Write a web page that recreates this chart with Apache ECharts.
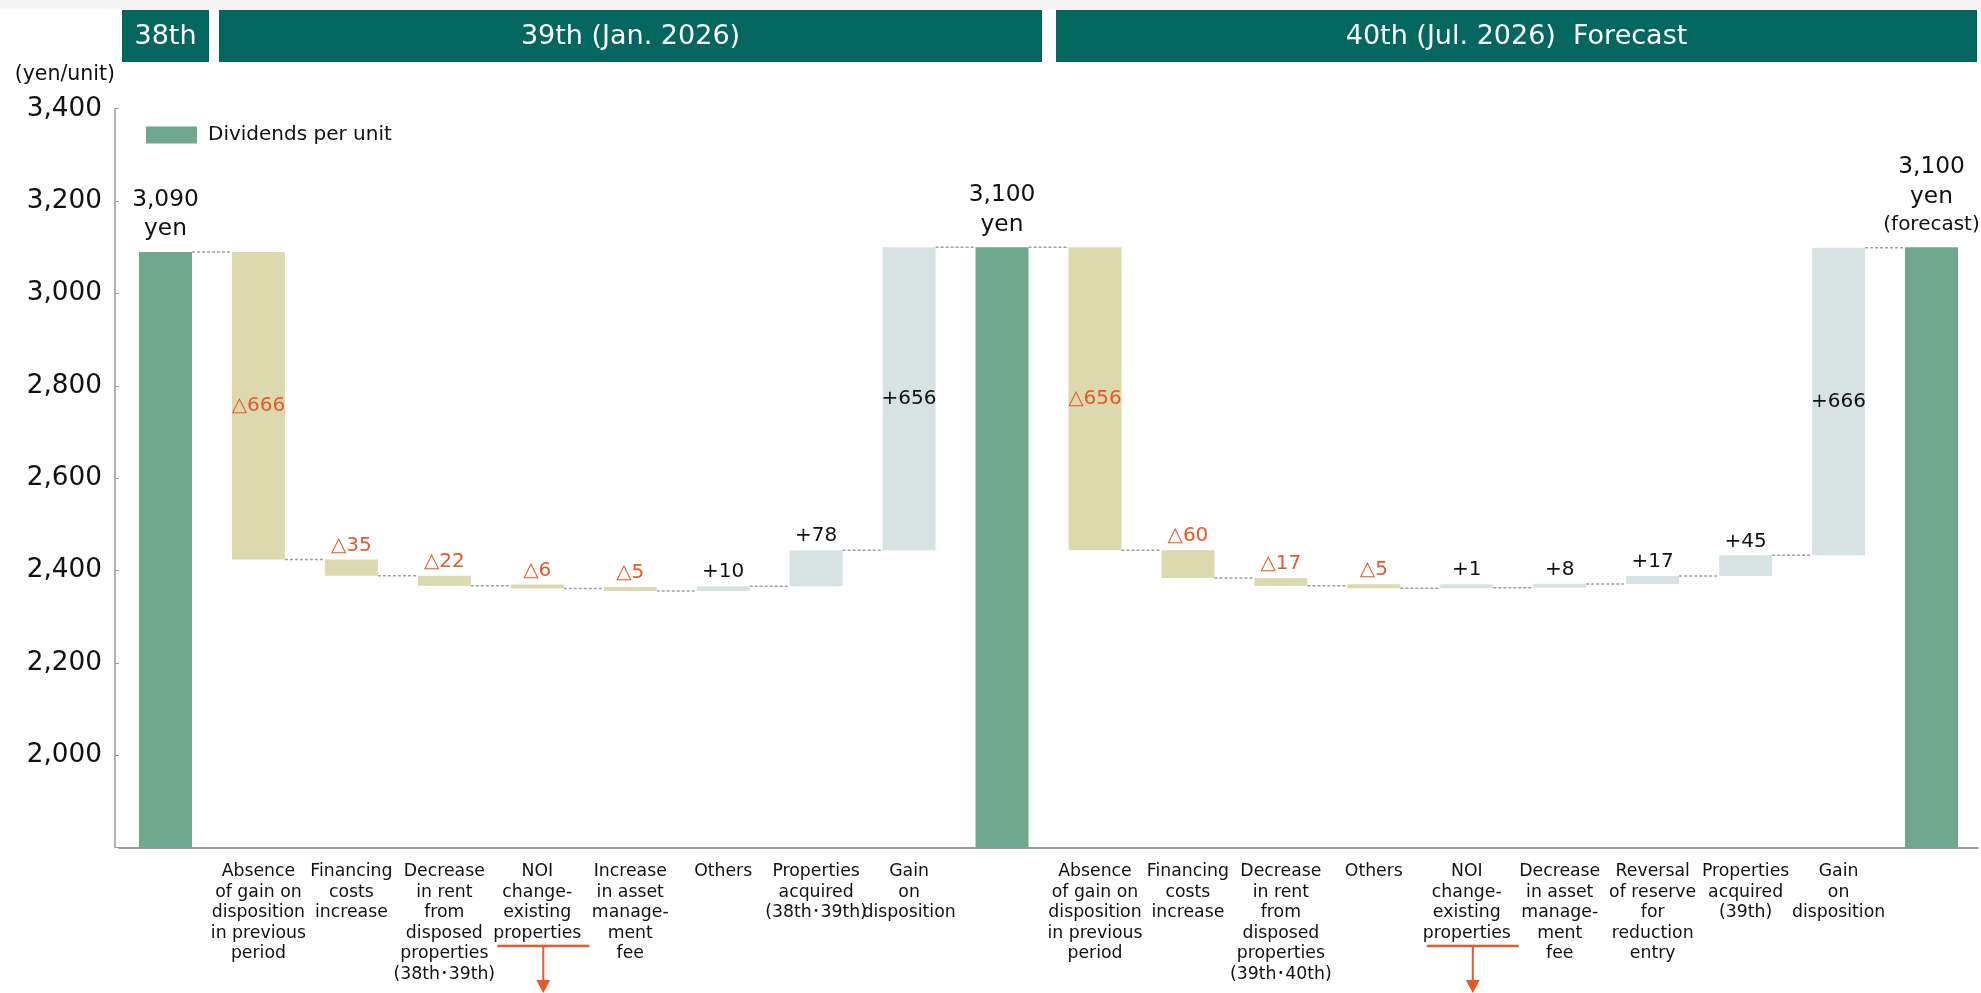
<!DOCTYPE html>
<html><head><meta charset="utf-8">
<script src="https://cdn.jsdelivr.net/npm/echarts@6/dist/echarts.min.js"></script>
<style>html,body{margin:0;padding:0;background:#fff}#c{width:1981px;height:993px}</style>
</head><body><div id="c"></div>
<script>
// ---- data ----
const categories = [
  '',
  'Absence\nof gain on\ndisposition\nin previous\nperiod',
  'Financing\ncosts\nincrease',
  'Decrease\nin rent\nfrom\ndisposed\nproperties\n(38th･39th)',
  'NOI\nchange-\nexisting\nproperties',
  'Increase\nin asset\nmanage-\nment\nfee',
  'Others',
  'Properties\nacquired\n(38th･39th)',
  'Gain\non\ndisposition',
  '',
  'Absence\nof gain on\ndisposition\nin previous\nperiod',
  'Financing\ncosts\nincrease',
  'Decrease\nin rent\nfrom\ndisposed\nproperties\n(39th･40th)',
  'Others',
  'NOI\nchange-\nexisting\nproperties',
  'Decrease\nin asset\nmanage-\nment\nfee',
  'Reversal\nof reserve\nfor\nreduction\nentry',
  'Properties\nacquired\n(39th)',
  'Gain\non\ndisposition',
  ''
];
const dividends = [3090, null, null, null, null, null, null, null, null, 3100,
                   null, null, null, null, null, null, null, null, null, 3100];
const changes   = [null, -666, -35, -22, -6, -5, 10, 78, 656, null,
                   -656, -60, -17, -5, 1, 8, 17, 45, 666, null];
const totalNotes = ['', '', '', '', '', '', '', '', '', '',
                    '', '', '', '', '', '', '', '', '', '(forecast)'];
const periodHeaders = ['38th', '39th (Jan. 2026)', '40th (Jul. 2026)  Forecast'];
const yMin = 1800, yMax = 3400, yStep = 200;

// ---- build waterfall stacks ----
const FONT = "'DejaVu Sans', Verdana, 'Noto Sans CJK JP', sans-serif";
const n = categories.length;
let running = 0;
const base = [], totals = [], neg = [], pos = [], levels = [];
for (let i = 0; i < n; i++) {
  if (dividends[i] != null) {
    running = dividends[i];
    base.push(0); totals.push(dividends[i]); neg.push('-'); pos.push('-');
  } else {
    const d = changes[i], start = running;
    running = start + d;
    base.push(Math.min(start, running));
    totals.push('-');
    neg.push(d < 0 ? { value: -d, label: { position: -d > 200 ? 'inside' : 'top' } } : '-');
    pos.push(d > 0 ? { value: d, label: { position: d > 200 ? 'inside' : 'top' } } : '-');
  }
  levels.push(running);
}
const connectors = levels.slice(0, n - 1).map((v, i) => [i, v]);
const BAR_W = 53;

const chart = echarts.init(document.getElementById('c'));
chart.setOption({
  animation: false,
  textStyle: { fontFamily: FONT },
  legend: {
    data: ['Dividends per unit'], left: 141, top: 120, icon: 'rect',
    itemWidth: 51, itemHeight: 17, selectedMode: false,
    textStyle: { fontSize: 20, color: '#111', fontFamily: FONT, padding: [0, 0, 0, 6] }
  },
  grid: { left: 119, right: 3, top: 108.7, bottom: 145.3, containLabel: false },
  xAxis: {
    type: 'category', data: categories,
    axisLine: { lineStyle: { color: '#999', width: 2 } },
    axisTick: { show: false },
    axisLabel: { interval: 0, fontSize: 17.3, lineHeight: 20.5, margin: 14, color: '#111', fontFamily: FONT }
  },
  yAxis: {
    type: 'value', min: yMin, max: yMax, interval: yStep, offset: 4,
    name: '(yen/unit)', nameLocation: 'end', nameGap: 34,
    nameTextStyle: { fontSize: 20.5, color: '#111', align: 'right', verticalAlign: 'middle', fontFamily: FONT },
    axisLine: { show: true, lineStyle: { color: '#999', width: 1.5 } },
    axisTick: { show: true, inside: true, length: 4, lineStyle: { color: '#999' } },
    splitLine: { show: false },
    axisLabel: {
      fontSize: 26.3, color: '#111', margin: 13, fontFamily: FONT,
      formatter: v => v === yMin ? '' : v.toLocaleString('en-US')
    }
  },
  series: [
    { type: 'bar', name: 'base', stack: 'w', barWidth: BAR_W, data: base, silent: true,
      itemStyle: { color: 'transparent' } },
    { type: 'bar', name: 'Dividends per unit', stack: 'w', barWidth: BAR_W, data: totals,
      itemStyle: { color: '#6FA78F' },
      label: {
        show: true, position: 'top', distance: 8,
        formatter: p => {
          let s = '{v|' + p.value.toLocaleString('en-US') + '}\n{v|yen}';
          if (totalNotes[p.dataIndex]) s += '\n{f|' + totalNotes[p.dataIndex] + '}';
          return s;
        },
        rich: {
          v: { fontSize: 23.3, lineHeight: 29.5, color: '#111', fontFamily: FONT, align: 'center' },
          f: { fontSize: 20, lineHeight: 28, color: '#111', fontFamily: FONT, align: 'center' }
        }
      } },
    { type: 'bar', name: 'Decrease', stack: 'w', barWidth: BAR_W, data: neg, barMinHeight: 4,
      itemStyle: { color: '#DCD9AE' },
      label: { show: true, color: '#E35A2B', fontSize: 20, distance: 4, fontFamily: FONT,
               formatter: p => '△' + p.value } },
    { type: 'bar', name: 'Increase', stack: 'w', barWidth: BAR_W, data: pos, barMinHeight: 4,
      itemStyle: { color: '#D6E3E2' },
      label: { show: true, color: '#111', fontSize: 20, distance: 4, fontFamily: FONT,
               formatter: p => '+' + p.value } },
    { type: 'custom', name: 'connectors', data: connectors, silent: true, z: 1,
      renderItem: (params, api) => {
        const i = api.value(0), v = api.value(1);
        const p1 = api.coord([i, v]), p2 = api.coord([i + 1, v]);
        return { type: 'line',
          shape: { x1: p1[0] + BAR_W / 2, y1: p1[1], x2: p2[0] - BAR_W / 2, y2: p1[1] },
          style: { stroke: '#a0a0a0', lineWidth: 1.5, lineDash: [3, 2] } };
      } }
  ]
});

// ---- annotations: header boxes + NOI arrows ----
const g = [];
g.push({ type: 'rect', shape: { x: 0, y: 0, width: 1981, height: 9 }, style: { fill: '#f4f4f4' }, silent: true });
const headerBoxes = [[122, 209], [219, 1042], [1056, 1977]];
headerBoxes.forEach((b, k) => {
  g.push({ type: 'rect', shape: { x: b[0], y: 10, width: b[1] - b[0], height: 52 },
           style: { fill: '#03665F' }, silent: true });
  g.push({ type: 'text', x: (b[0] + b[1]) / 2, y: 37,
           style: { text: periodHeaders[k], fill: '#fff', font: '27px ' + FONT, align: 'center', verticalAlign: 'middle' },
           silent: true });
});
categories.forEach((c, i) => {
  if (c.indexOf('NOI') === 0) {
    const cx = chart.convertToPixel({ xAxisIndex: 0 }, i) + 6;
    g.push({ type: 'line', shape: { x1: cx - 46, y1: 946, x2: cx + 46, y2: 946 },
             style: { stroke: '#E35A2B', lineWidth: 2.5 }, silent: true });
    g.push({ type: 'line', shape: { x1: cx, y1: 946, x2: cx, y2: 982 },
             style: { stroke: '#E35A2B', lineWidth: 2 }, silent: true });
    g.push({ type: 'polygon', shape: { points: [[cx - 7, 980], [cx + 7, 980], [cx, 993]] },
             style: { fill: '#E35A2B' }, silent: true });
  }
});
chart.setOption({ graphic: g });
</script></body></html>
